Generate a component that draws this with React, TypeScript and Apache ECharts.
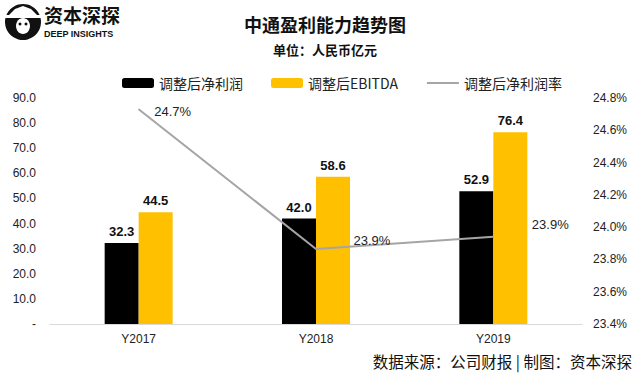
import React, { useEffect, useRef } from "react";
import * as echarts from "echarts";

const categories = ["Y2017", "Y2018", "Y2019"];
const netProfit = [32.3, 42.0, 52.9];
const ebitda = [44.5, 58.6, 76.4];
const netMargin = [24.73, 23.865, 23.94];
const marginLabels = ["24.7%", "23.9%", "23.9%"];
const leftTicks = { min: 0, max: 90, interval: 10 };
const rightTicks = { min: 23.4, max: 24.8, interval: 0.2 };

const FONT = "'Liberation Sans', Arial, sans-serif";
const CJK = "'Noto Sans CJK SC', sans-serif";

export default function App() {
  const ref = useRef<HTMLDivElement>(null);
  useEffect(() => {
    if (!ref.current) return;
    const chart = echarts.init(ref.current, null, { renderer: "svg" });
    const marginOffsets = [[10, 2], [32, -8], [33, -12]];
    chart.setOption({
      animation: false,
      backgroundColor: "#ffffff",
      title: [
        {
          text: "中通盈利能力趋势图",
          left: 320,
          top: 10,
          textAlign: "center",
          textStyle: { fontFamily: CJK, fontSize: 18, fontWeight: "bold", color: "#111" },
        },
        {
          text: "单位：人民币亿元",
          left: 320,
          top: 38,
          textAlign: "center",
          textStyle: { fontFamily: CJK, fontSize: 13, fontWeight: "bold", color: "#111" },
        },
      ],
      legend: {
        left: 117,
        top: 71,
        itemWidth: 32,
        itemHeight: 10,
        itemGap: 28,
        textStyle: { fontFamily: CJK, fontSize: 14, color: "#222" },
        data: [
          "调整后净利润",
          "调整后EBITDA",
          { name: "调整后净利润率", itemStyle: { opacity: 0 } },
        ],
      },
      grid: { left: 50, right: 58, top: 98, bottom: 51 },
      xAxis: {
        type: "category",
        data: categories,
        axisLine: { lineStyle: { color: "#D9D9D9", width: 1 } },
        axisTick: { show: false },
        axisLabel: { fontFamily: FONT, fontSize: 12, color: "#222", margin: 9 },
      },
      yAxis: [
        {
          type: "value",
          min: leftTicks.min,
          max: leftTicks.max,
          interval: leftTicks.interval,
          splitLine: { show: false },
          axisLine: { show: false },
          axisTick: { show: false },
          axisLabel: {
            fontFamily: FONT,
            fontSize: 12,
            color: "#222",
            margin: 14,
            formatter: (v: number) => (v === 0 ? "-" : v.toFixed(1)),
          },
        },
        {
          type: "value",
          min: rightTicks.min,
          max: rightTicks.max,
          interval: rightTicks.interval,
          splitLine: { show: false },
          axisLine: { show: false },
          axisTick: { show: false },
          axisLabel: {
            fontFamily: FONT,
            fontSize: 12,
            color: "#222",
            margin: 11,
            formatter: (v: number) => v.toFixed(1) + "%",
          },
        },
      ],
      series: [
        {
          name: "调整后净利润",
          type: "bar",
          data: netProfit,
          barWidth: 34,
          barGap: "0%",
          itemStyle: { color: "#000000" },
          label: {
            show: true,
            position: "top",
            fontFamily: FONT,
            fontSize: 13,
            fontWeight: "bold",
            color: "#111",
            formatter: (p: any) => Number(p.value).toFixed(1),
          },
        },
        {
          name: "调整后EBITDA",
          type: "bar",
          data: ebitda,
          barWidth: 34,
          barGap: "0%",
          itemStyle: { color: "#FFC000" },
          label: {
            show: true,
            position: "top",
            fontFamily: FONT,
            fontSize: 13,
            fontWeight: "bold",
            color: "#111",
            formatter: (p: any) => Number(p.value).toFixed(1),
          },
        },
        {
          name: "调整后净利润率",
          type: "line",
          yAxisIndex: 1,
          symbol: "circle",
          symbolSize: 1,
          showSymbol: true,
          lineStyle: { color: "#A5A5A5", width: 2 },
          itemStyle: { color: "#A5A5A5" },
          data: netMargin.map((v, i) => ({
            value: v,
            label: {
              show: true,
              position: "right",
              offset: marginOffsets[i],
              fontFamily: FONT,
              fontSize: 13,
              color: "#222",
              formatter: () => marginLabels[i],
            },
          })),
        },
      ],
      graphic: [
        { type: "circle", shape: { cx: 23, cy: 22, r: 18 }, style: { fill: "#111" } },
        { type: "polygon", shape: { points: [[9, 15], [37, 15], [31, 9], [23, 6], [15, 9]] }, style: { fill: "#fff" } },
        { type: "rect", shape: { x: 5, y: 15, width: 36, height: 3 }, style: { fill: "#fff" } },
        { type: "ellipse", shape: { cx: 23, cy: 26, rx: 7, ry: 8 }, style: { fill: "#fff" } },
        { type: "circle", shape: { cx: 20, cy: 24, r: 1.5 }, style: { fill: "#111" } },
        { type: "circle", shape: { cx: 26, cy: 24, r: 1.5 }, style: { fill: "#111" } },
        {
          type: "text",
          left: 44,
          top: 5,
          style: { text: "资本深探", fontFamily: CJK, fontSize: 19, fontWeight: "bold", fill: "#111" },
        },
        {
          type: "text",
          left: 44,
          top: 29,
          style: { text: "DEEP INSIGHTS", fontFamily: FONT, fontSize: 9, fontWeight: "bold", fill: "#111" },
        },
        {
          type: "text",
          right: 8,
          top: 353,
          style: { text: "数据来源：公司财报 | 制图：资本深探", fontFamily: CJK, fontSize: 15.5, fill: "#111" },
        },
      ],
    });
    return () => chart.dispose();
  }, []);
  return <div ref={ref} style={{ width: 640, height: 375, position: "absolute", left: 0, top: 0 }} />;
}
